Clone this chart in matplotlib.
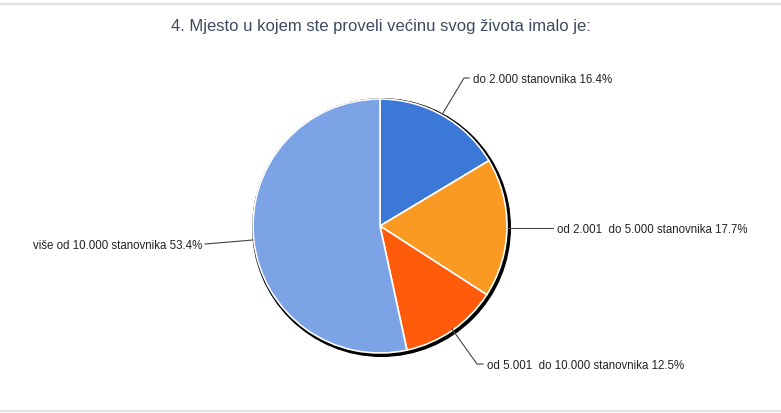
import matplotlib.pyplot as plt
from matplotlib.patches import Circle

plt.rcParams['font.family'] = ['Liberation Sans', 'DejaVu Sans']

# podaci
labels = ['do 2.000 stanovnika', 'od 2.001  do 5.000 stanovnika',
          'od 5.001  do 10.000 stanovnika', 'više od 10.000 stanovnika']
shares = [16.4, 17.7, 12.5, 53.4]
colors = ['#3c78d8', '#fa9a22', '#ff5b0a', '#7ca3e5']
title = '4. Mjesto u kojem ste proveli većinu svog života imalo je:'

W, H = 781, 413
fig = plt.figure(figsize=(W / 100, H / 100), dpi=100)
ax = fig.add_axes([0, 0, 1, 1])

cx, cy, r = 380, H - 226, 127

# sjena / obrub
ax.add_patch(Circle((cx + 1.5, cy - 1.5), r + 1.8, color='black', zorder=1))

wedges, _ = ax.pie(shares, colors=colors, startangle=90, counterclock=False,
                   center=(cx, cy), radius=r, frame=True,
                   wedgeprops=dict(edgecolor='white', linewidth=1.2, zorder=2))
ax.set_xlim(0, W)
ax.set_ylim(0, H)
ax.set_aspect('equal')
ax.axis('off')

# leader linije i tekst (u pikselima slike)
pts = [
    [(443, 113), (464, 78), (469, 78)],
    [(508, 228), (553, 228)],
    [(452, 329), (477, 364), (483, 364)],
    [(253, 240), (205, 244)],
]
text_pos = [(473, 80, 'left'), (557, 230, 'left'), (487, 366, 'left'), (202, 246, 'right')]
for lab, s, p, (tx, ty, ha) in zip(labels, shares, pts, text_pos):
    xs = [q[0] for q in p]
    ys = [H - q[1] for q in p]
    ax.plot(xs, ys, color='#444444', lw=0.8, zorder=3)
    ax.text(tx, H - ty, f'{lab} {s}%', fontsize=8.3, ha=ha, va='center', color='#222222')

ax.text(W / 2 - 10, H - 27, title, fontsize=12, ha='center', va='center', color='#3d4a5e')

# sive linije gore i dolje
ax.plot([0, W], [H - 4, H - 4], color='#e2e2e2', lw=1.5)
ax.plot([0, W], [H - 411, H - 411], color='#e2e2e2', lw=1.5)

fig.savefig('out.png', dpi=100)
